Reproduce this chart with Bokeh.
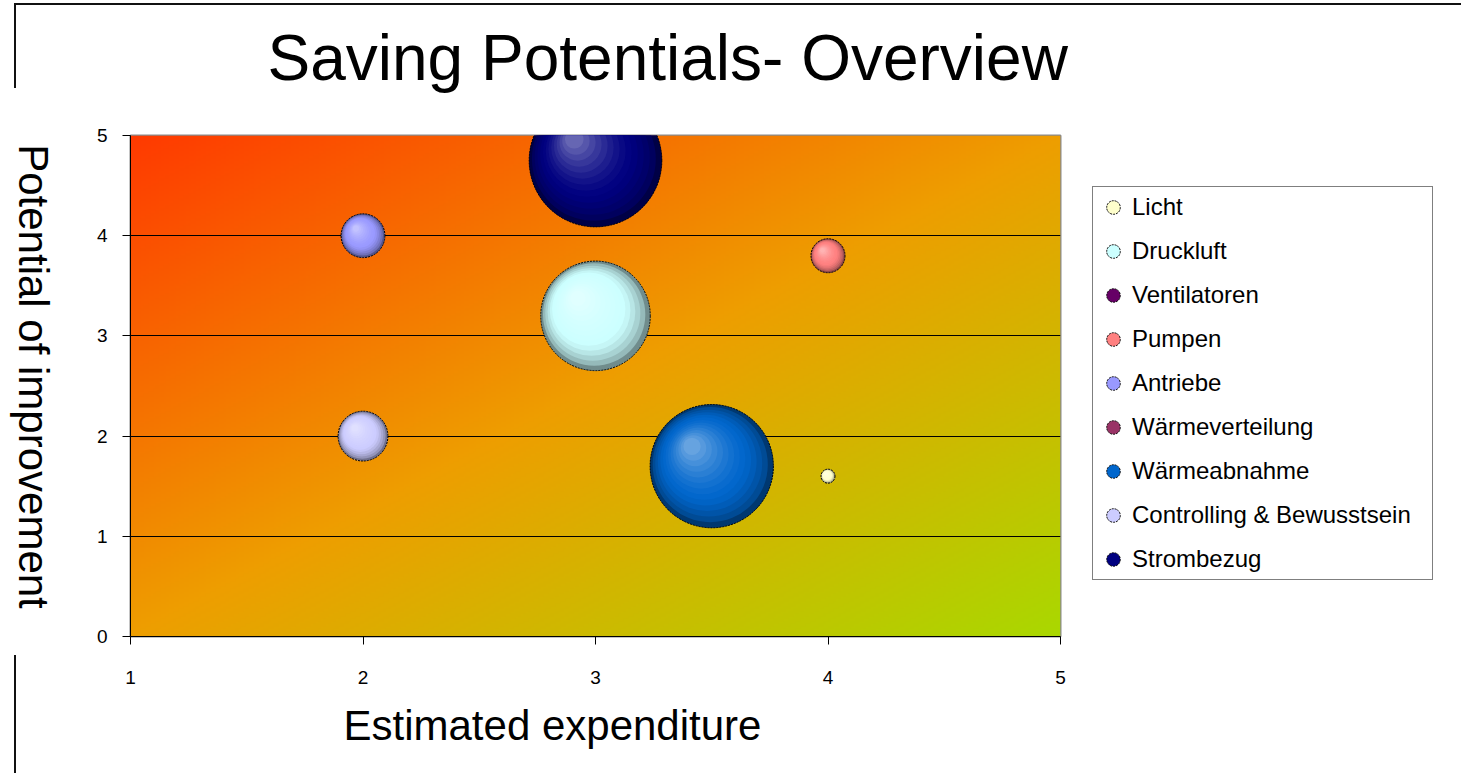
import numpy as np
from bokeh.plotting import figure
from bokeh.layouts import row
from bokeh.models import (Range1d, FixedTicker, Legend, LegendItem, Label,
                          Title, InlineStyleSheet)
from bokeh.embed import file_html
from bokeh.resources import INLINE

# ---------------- data ----------------
series = ["Licht", "Druckluft", "Ventilatoren", "Pumpen", "Antriebe",
          "Wärmeverteilung", "Wärmeabnahme", "Controlling & Bewusstsein", "Strombezug"]
expenditure = [4, 3, None, 4, 2, None, 3.5, 2, 3]
improvement = [1.6, 3.2, None, 3.8, 4, None, 1.7, 2, 4.75]
bubble_size = [0.49, 30, None, 2.9, 4.8, None, 38, 6.2, 44]
colors = ["#FFFFCC", "#CCFFFF", "#660066", "#FF8080", "#9999FF",
          "#993366", "#0066CC", "#CCCCFF", "#000080"]
x_ticks = [1, 2, 3, 4, 5]
y_ticks = [0, 1, 2, 3, 4, 5]
title_text = "Saving Potentials- Overview"
x_title = "Estimated expenditure"
y_title = "Potential of improvement"

# ---------------- layout ----------------
H = 773
WL, WA, WB = 70, 1010, 381          # left strip, main plot, legend strip
BL, BR, BT, BB = 60, 20, 135, 137   # main plot borders
FONT = "Liberation Sans"
x_lo, x_hi = x_ticks[0], x_ticks[-1]
y_lo, y_hi = y_ticks[0], y_ticks[-1]
frame_bottom = H - BB               # canvas y of the (shared) frame bottom

LINE = "2px solid #111"
css_left = f"""
:host {{ position: relative; }}
:host::before {{ content: ''; position: absolute; left: 14px; top: 3px; width: 60px; height: 85px;
  border-top: {LINE}; border-left: {LINE}; pointer-events: none; z-index: 5; }}
:host::after {{ content: ''; position: absolute; left: 14px; top: 655px; width: 0px; height: 130px;
  border-left: {LINE}; pointer-events: none; z-index: 5; }}
"""
css_top = f"""
:host {{ position: relative; }}
:host::before {{ content: ''; position: absolute; left: 0px; top: 3px; width: 100%; height: 0px;
  border-top: {LINE}; pointer-events: none; z-index: 5; }}
"""


def blank_strip(width):
    f = figure(width=width, height=H, x_range=Range1d(0, 1), y_range=Range1d(0, 1),
               output_backend="svg", toolbar_location=None, title=None,
               x_axis_location=None, y_axis_location=None,
               min_border_left=0, min_border_right=0,
               min_border_top=BT, min_border_bottom=BB)
    f.xgrid.visible = False
    f.ygrid.visible = False
    f.outline_line_color = None
    f.border_fill_color = "white"
    f.background_fill_color = "white"
    return f


# ---------- left strip: y axis title ----------
pl = blank_strip(WL)
pl.stylesheets = [InlineStyleSheet(css=css_left)]
pl.add_layout(Label(x=33, y=frame_bottom - 376, x_units="screen", y_units="screen", text=y_title,
                    angle=-np.pi / 2, text_align="center", text_baseline="middle",
                    text_font=FONT, text_font_size="42px", text_color="black"))

# ---------- main plot ----------
p = figure(width=WA, height=H, x_range=Range1d(x_lo, x_hi), y_range=Range1d(y_lo, y_hi),
           output_backend="svg", toolbar_location=None,
           min_border_left=BL, min_border_right=BR, min_border_top=BT, min_border_bottom=BB)
p.stylesheets = [InlineStyleSheet(css=css_top)]
p.border_fill_color = "white"
p.background_fill_color = "white"
p.outline_line_color = "#8a8a8a"
p.outline_line_width = 2

p.title.text = title_text
p.title.text_font = FONT
p.title.text_font_size = "64px"
p.title.text_font_style = "normal"
p.title.text_color = "black"
p.title.align = "left"
p.title.offset = 137
p.title.standoff = 0
# spacer between title and plot area
p.add_layout(Title(text=" ", text_font_size="1px", standoff=39), "above")

# background gradient of the plot area
ny, nx = 200, 372
u = np.linspace(0, 1, nx)[None, :]
v = np.linspace(1, 0, ny)[:, None]
t = (u + v) / 2.0
stops = [0.0, 0.5, 1.0]
cr = [255, 238, 170]
cg = [58, 158, 216]
cb = [0, 0, 0]
img = np.empty((ny, nx), dtype=np.uint32)
view = img.view(dtype=np.uint8).reshape((ny, nx, 4))
view[:, :, 0] = np.interp(t, stops, cr).astype(np.uint8)
view[:, :, 1] = np.interp(t, stops, cg).astype(np.uint8)
view[:, :, 2] = np.interp(t, stops, cb).astype(np.uint8)
view[:, :, 3] = 255
p.image_rgba(image=[img], x=x_lo, y=y_lo, dw=x_hi - x_lo, dh=y_hi - y_lo, level="image")

for ax in (p.xaxis[0], p.yaxis[0]):
    ax.axis_line_color = "black"
    ax.axis_line_width = 1
    ax.major_tick_line_color = "black"
    ax.minor_tick_line_color = None
    ax.major_tick_in = 0
    ax.major_tick_out = 8
    ax.major_label_text_font = FONT
    ax.major_label_text_font_size = "19px"
    ax.major_label_text_color = "black"
p.xaxis.ticker = FixedTicker(ticks=x_ticks)
p.yaxis.ticker = FixedTicker(ticks=y_ticks)
p.xaxis.major_label_standoff = 26
p.yaxis.major_label_standoff = 15

p.add_layout(Title(text=x_title, align="left", offset=213, standoff=27,
                   text_font=FONT, text_font_size="42px", text_font_style="normal",
                   text_color="black"), "below")

p.xgrid.visible = False
p.ygrid.ticker = FixedTicker(ticks=y_ticks[1:-1])
p.ygrid.grid_line_color = "black"
p.ygrid.grid_line_width = 1


def hex2rgb(h):
    h = h.lstrip("#")
    return np.array([int(h[i:i + 2], 16) for i in (0, 2, 4)], dtype=float)


def rgb2hex(c):
    c = np.clip(np.round(c), 0, 255).astype(int)
    return "#%02x%02x%02x" % tuple(c)


frame_w = WA - BL - BR
frame_h = H - BT - BB
px_x = frame_w / (x_hi - x_lo)
px_y = frame_h / (y_hi - y_lo)
NL = 14

for name, x, y, s, c in zip(series, expenditure, improvement, bubble_size, colors):
    if x is None:
        continue
    base = hex2rgb(c)
    d = 20.0 * np.sqrt(s)
    p.scatter([x], [y], size=d, marker="circle", fill_color=c, line_color=None)
    dark = base * 0.55
    light = base + (255 - base) * 0.4
    for k in range(NL):
        tt = k / (NL - 1)
        dk = d * (1 - 0.86 * tt)
        off = 0.32 * (d / 2) * tt
        if tt < 0.35:
            col = dark + (base - dark) * (tt / 0.35) ** 0.6
        else:
            col = base + (light - base) * ((tt - 0.35) / 0.65) ** 1.4
        p.scatter([x - off / px_x], [y + off / px_y], size=dk, marker="circle",
                  fill_color=rgb2hex(col), line_color=None)
    p.scatter([x], [y], size=d, marker="circle", fill_color=None,
              line_color="black", line_width=1, line_dash="2 1")

# ---------- right strip: legend ----------
pb = blank_strip(WB)
pb.stylesheets = [InlineStyleSheet(css=css_top)]
items = []
for name, c in zip(series, colors):
    r = pb.scatter([0.5], [0.5], size=12, marker="circle", fill_color=c,
                   line_color="black", line_width=1, line_dash="2 1", visible=False)
    items.append(LegendItem(label=name, renderers=[r]))

legend = Legend(items=items, location=(12, frame_bottom - 580))
legend.glyph_width = 34
legend.glyph_height = 34
legend.label_standoff = 2
legend.padding = 3
legend.spacing = 10
legend.margin = 0
legend.label_width = 297
legend.label_text_font = FONT
legend.label_text_font_size = "24px"
legend.label_text_color = "black"
legend.border_line_color = "black"
legend.border_line_width = 1
legend.background_fill_color = "white"
legend.background_fill_alpha = 1
legend.inactive_fill_alpha = 0
pb.add_layout(legend)

layout = row(pl, p, pb, spacing=0)
open("out.html", "w").write(file_html(layout, INLINE))
